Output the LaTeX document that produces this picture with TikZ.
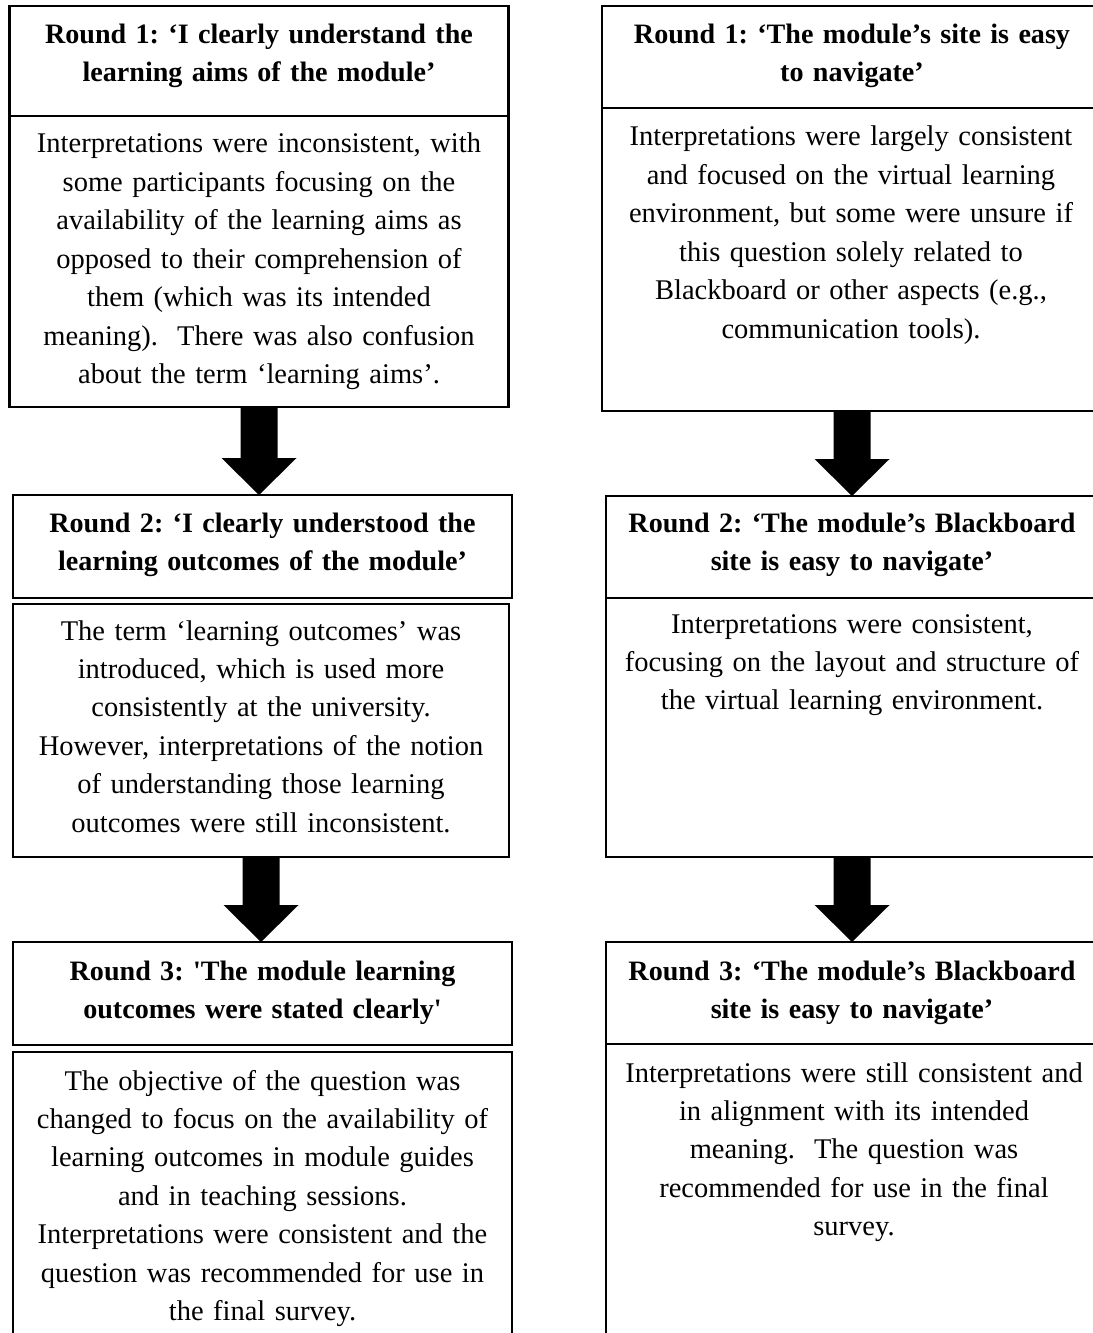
\documentclass[tikz,border=0pt]{standalone}
\usepackage{fontspec}
\setmainfont{Liberation Serif}
\usetikzlibrary{calc}
\frenchspacing
\begin{document}
\begin{tikzpicture}[x=1bp,y=-1bp,
  frame/.style={draw,line width=2.8bp,anchor=north west,inner sep=0pt,outer sep=0pt},
  ttl/.style={anchor=base,align=center,text width=540bp,inner sep=0pt,font=\fontsize{28.1bp}{38.4bp}\selectfont\bfseries},
  bdy/.style={anchor=base,align=center,text width=540bp,inner sep=0pt,font=\fontsize{28.5bp}{38.4bp}\selectfont},
  flow/.style={fill=black,draw=none}]
\useasboundingbox (0,0) rectangle (1092,1333);

% ---------- left column boxes
\node[frame,minimum width=499bp,minimum height=110bp] (L1t) at (9.5,6) {};
\node[frame,minimum width=499bp,minimum height=291bp] (L1b) at (9.5,116) {};
\node[frame,minimum width=499bp,minimum height=103bp] (L2t) at (13,495) {};
\node[frame,minimum width=496bp,minimum height=253bp] (L2b) at (13,604) {};
\node[frame,minimum width=499bp,minimum height=103bp] (L3t) at (13,942) {};
\node[frame,minimum width=499bp,minimum height=360bp] (L3b) at (13,1052) {};

% ---------- right column boxes
\node[frame,minimum width=500bp,minimum height=102bp] (R1t) at (602,6) {};
\node[frame,minimum width=500bp,minimum height=303bp] (R1b) at (602,108) {};
\node[frame,minimum width=492bp,minimum height=102bp] (R2t) at (606,496) {};
\node[frame,minimum width=492bp,minimum height=259bp] (R2b) at (606,598) {};
\node[frame,minimum width=492bp,minimum height=102bp] (R3t) at (606,942) {};
\node[frame,minimum width=492bp,minimum height=368bp] (R3b) at (606,1044) {};

% ---------- texts, left
\node[ttl] (L1tt) at (259,43.5) {Round 1: ‘I clearly understand the\\learning aims of the module’};
\node[bdy] (L1bt) at (259,153) {Interpretations were inconsistent, with\\some participants focusing on the\\availability of the learning aims as\\opposed to their comprehension of\\them (which was its intended\\meaning).\ \ There was also confusion\\about the term ‘learning aims’.};
\node[ttl] (L2tt) at (262.5,532) {Round 2: ‘I clearly understood the\\learning outcomes of the module’};
\node[bdy] (L2bt) at (261,640) {The term ‘learning outcomes’ was\\introduced, which is used more\\consistently at the university.\\However, interpretations of the notion\\of understanding those learning\\outcomes were still inconsistent.};
\node[ttl] (L3tt) at (262.5,980) {Round 3: \textquotesingle The module learning\\outcomes were stated clearly\textquotesingle};
\node[bdy] (L3bt) at (262.5,1090) {The objective of the question was\\changed to focus on the availability of\\learning outcomes in module guides\\and in teaching sessions.\\Interpretations were consistent and the\\question was recommended for use in\\the final survey.};

% ---------- texts, right
\node[ttl] (R1tt) at (852,43.5) {Round 1: ‘The module’s site is easy\\to navigate’};
\node[bdy] (R1bt) at (851,146) {Interpretations were largely consistent\\and focused on the virtual learning\\environment, but some were unsure if\\this question solely related to\\Blackboard or other aspects (e.g.,\\communication tools).};
\node[ttl] (R2tt) at (852,532) {Round 2: ‘The module’s Blackboard\\site is easy to navigate’};
\node[bdy] (R2bt) at (852,633) {Interpretations were consistent,\\focusing on the layout and structure of\\the virtual learning environment.};
\node[ttl] (R3tt) at (852,980) {Round 3: ‘The module’s Blackboard\\site is easy to navigate’};
\node[bdy] (R3bt) at (854,1082) {Interpretations were still consistent and\\in alignment with its intended\\meaning.\ \ The question was\\recommended for use in the final\\survey.};

% ---------- block arrows
\newcommand{\blockarrow}[2]{%
  \fill[flow] let \p1=(#1.south), \p2=(#2.north) in
    (\x1-18.5bp,\y1) -- (\x1+18.5bp,\y1) -- (\x1+18.5bp,\y2+37bp) --
    (\x1+37.5bp,\y2+37bp) -- (\x1,\y2) -- (\x1-37.5bp,\y2+37bp) --
    (\x1-18.5bp,\y2+37bp) -- cycle;}
\blockarrow{L1b}{L2t}
\blockarrow{L2b}{L3t}
\blockarrow{R1b}{R2t}
\blockarrow{R2b}{R3t}
\end{tikzpicture}
\end{document}
